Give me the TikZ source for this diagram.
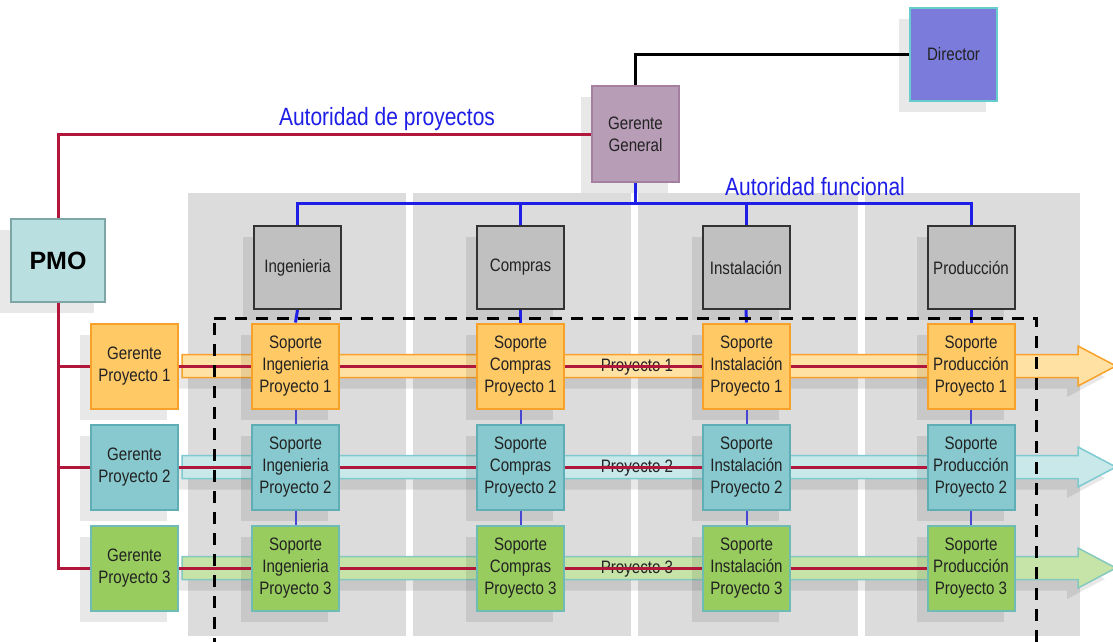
\documentclass[tikz,border=0pt]{standalone}
\usepackage{fontspec}
\setmainfont{Liberation Sans}
\newfontfamily\narrowsans[FakeStretch=0.84]{Liberation Sans}
\usetikzlibrary{shadows}

\definecolor{colgray}{HTML}{DCDCDC}
\definecolor{dirfill}{HTML}{7B7BDC}
\definecolor{dirdraw}{HTML}{66CCCC}
\definecolor{ggfill}{HTML}{B89DB7}
\definecolor{ggdraw}{HTML}{A47FA0}
\definecolor{pmofill}{HTML}{BADFE1}
\definecolor{pmodraw}{HTML}{7FA6A6}
\definecolor{funcfill}{HTML}{C0C0C0}
\definecolor{funcdraw}{HTML}{333333}
\definecolor{pafill}{HTML}{FFC966}
\definecolor{padraw}{HTML}{F7A12A}
\definecolor{paband}{HTML}{FFE1A3}
\definecolor{pbfill}{HTML}{87C9CE}
\definecolor{pbdraw}{HTML}{5FAEB5}
\definecolor{pbband}{HTML}{C8E8EA}
\definecolor{pbbanddraw}{HTML}{7DCBD0}
\definecolor{pcfill}{HTML}{98CC5F}
\definecolor{pcdraw}{HTML}{6FBBB5}
\definecolor{pcband}{HTML}{C6E4A8}
\definecolor{pcbanddraw}{HTML}{85C9BE}
\definecolor{projred}{HTML}{B0173B}
\definecolor{authblue}{HTML}{1E1EE6}
\definecolor{linkblue}{HTML}{4646D2}
\definecolor{boxtext}{HTML}{222222}

\begin{document}
\begin{tikzpicture}[x=1pt,y=-1pt,
  boxshadow/.style={general shadow={fill=black,opacity=0.09,shadow xshift=-11pt,shadow yshift=-11pt}},
  unitbox/.style={boxshadow,rectangle,line width=2pt,minimum width=87pt,minimum height=85pt,
    inner sep=0pt,align=center,text=boxtext,font=\narrowsans\fontsize{18}{22}\selectfont},
  funcbox/.style={unitbox,fill=funcfill,draw=funcdraw,minimum height=83pt},
  projabox/.style={unitbox,fill=pafill,draw=padraw},
  projbbox/.style={unitbox,fill=pbfill,draw=pbdraw},
  projcbox/.style={unitbox,fill=pcfill,draw=pcdraw},
  projline/.style={projred,line width=3pt},
  funcline/.style={authblue,line width=3pt},
  linkline/.style={linkblue,line width=2pt},
  authlabel/.style={authblue,anchor=base,font=\narrowsans\fontsize{25}{30}\selectfont},
  bandlabel/.style={anchor=base,text=boxtext,font=\narrowsans\fontsize{18}{22}\selectfont}]

  % Fix the size of the picture
  \useasboundingbox (0,0) rectangle (1113,642);

  % Draw the gray columns of the functional areas
  \fill[colgray] (188,193) rectangle (406,636);
  \fill[colgray] (413,193) rectangle (631,636);
  \fill[colgray] (638,193) rectangle (858,636);
  \fill[colgray] (865,193) rectangle (1080,636);

  % Draw the wide project arrows
  \draw[boxshadow,fill=paband,draw=padraw,line width=1.5pt]
    (182,354.5) -- (1078,354.5) -- (1078,346) -- (1116,366) -- (1078,386) -- (1078,377.5) -- (182,377.5) -- cycle;
  \draw[boxshadow,fill=pbband,draw=pbbanddraw,line width=1.5pt]
    (182,455.5) -- (1078,455.5) -- (1078,447) -- (1116,467) -- (1078,487) -- (1078,478.5) -- (182,478.5) -- cycle;
  \draw[boxshadow,fill=pcband,draw=pcbanddraw,line width=1.5pt]
    (182,556.5) -- (1078,556.5) -- (1078,548) -- (1116,568) -- (1078,588) -- (1078,579.5) -- (182,579.5) -- cycle;

  % Top of the hierarchy
  \node[unitbox,fill=dirfill,draw=dirdraw,minimum height=93pt] (dir) at (953.5,54.5) {Director};
  \node[unitbox,fill=ggfill,draw=ggdraw,minimum height=96pt] (gg) at (635.5,134) {Gerente\\General};
  \node[unitbox,fill=pmofill,draw=pmodraw,line width=2.5pt,minimum width=94pt,minimum height=83pt,
    font=\fontsize{25}{30}\selectfont\bfseries,text=black] (pmo) at (58,260.5) {PMO};

  % Functional areas
  \node[funcbox] (ing) at (297.5,267.5) {Ingenieria};
  \node[funcbox] (comp) at (520.5,267.5) {Compras};
  \node[funcbox] (inst) at (746,267.5) {Instalación};
  \node[funcbox] (prod) at (971,267.5) {Producción};

  % Project managers
  \node[projabox] (gpa) at (134.5,366) {Gerente\\Proyecto 1};
  \node[projbbox] (gpb) at (134.5,467) {Gerente\\Proyecto 2};
  \node[projcbox] (gpc) at (134.5,568) {Gerente\\Proyecto 3};

  % Support boxes, project 1
  \node[projabox] (singa) at (295.5,366) {Soporte\\Ingenieria\\Proyecto 1};
  \node[projabox] (scompa) at (520.5,366) {Soporte\\Compras\\Proyecto 1};
  \node[projabox] (sinsta) at (746.5,366) {Soporte\\Instalación\\Proyecto 1};
  \node[projabox] (sproda) at (971,366) {Soporte\\Producción\\Proyecto 1};

  % Support boxes, project 2
  \node[projbbox] (singb) at (295.5,467) {Soporte\\Ingenieria\\Proyecto 2};
  \node[projbbox] (scompb) at (520.5,467) {Soporte\\Compras\\Proyecto 2};
  \node[projbbox] (sinstb) at (746.5,467) {Soporte\\Instalación\\Proyecto 2};
  \node[projbbox] (sprodb) at (971,467) {Soporte\\Producción\\Proyecto 2};

  % Support boxes, project 3
  \node[projcbox] (singc) at (295.5,568) {Soporte\\Ingenieria\\Proyecto 3};
  \node[projcbox] (scompc) at (520.5,568) {Soporte\\Compras\\Proyecto 3};
  \node[projcbox] (sinstc) at (746.5,568) {Soporte\\Instalación\\Proyecto 3};
  \node[projcbox] (sprodc) at (971,568) {Soporte\\Producción\\Proyecto 3};

  % Labels of the authorities and the projects
  \node[authlabel] (projauth) at (387,125) {Autoridad de proyectos};
  \node[authlabel] (funcauth) at (815,195) {Autoridad funcional};
  \node[bandlabel] (laba) at (637,371) {Proyecto 1};
  \node[bandlabel] (labb) at (637,472) {Proyecto 2};
  \node[bandlabel] (labc) at (637,573) {Proyecto 3};

  % Director to Gerente General
  \draw[black,line width=3pt] (gg.north) |- (dir.west);

  % Project authority lines
  \draw[projline] (pmo.north) |- (gg.west);
  \draw[projline] (pmo.south) |- (gpc.west);
  \draw[projline] (pmo.south |- gpa.west) -- (gpa.west);
  \draw[projline] (pmo.south |- gpb.west) -- (gpb.west);
  \draw[projline] (gpa.east) -- (singa.west) (singa.east) -- (scompa.west) (scompa.east) -- (sinsta.west) (sinsta.east) -- (sproda.west);
  \draw[projline] (gpb.east) -- (singb.west) (singb.east) -- (scompb.west) (scompb.east) -- (sinstb.west) (sinstb.east) -- (sprodb.west);
  \draw[projline] (gpc.east) -- (singc.west) (singc.east) -- (scompc.west) (scompc.east) -- (sinstc.west) (sinstc.east) -- (sprodc.west);

  % Functional authority lines
  \coordinate (bus) at (0,203);
  \draw[funcline] (gg.south) -- (gg.south |- bus);
  \draw[funcline] (ing.north) |- (prod.north |- bus) -- (prod.north);
  \draw[funcline] (comp.north) -- (comp.north |- bus);
  \draw[funcline] (inst.north) -- (inst.north |- bus);

  % Links down the columns
  \draw[funcline] (ing.south) -- (singa.north);
  \draw[funcline] (comp.south) -- (scompa.north);
  \draw[funcline] (inst.south) -- (sinsta.north);
  \draw[funcline] (prod.south) -- (sproda.north);
  \draw[linkline] (singa.south) -- (singb.north) (singb.south) -- (singc.north);
  \draw[linkline] (scompa.south) -- (scompb.north) (scompb.south) -- (scompc.north);
  \draw[linkline] (sinsta.south) -- (sinstb.north) (sinstb.south) -- (sinstc.north);
  \draw[linkline] (sproda.south) -- (sprodb.north) (sprodb.south) -- (sprodc.north);

  % Dashed frame of the projects
  \draw[black,line width=3pt,dash pattern=on 12pt off 9pt] (214,318) -- (1036,318) -- (1036,650) (214,650) -- (214,318);

\end{tikzpicture}
\end{document}
